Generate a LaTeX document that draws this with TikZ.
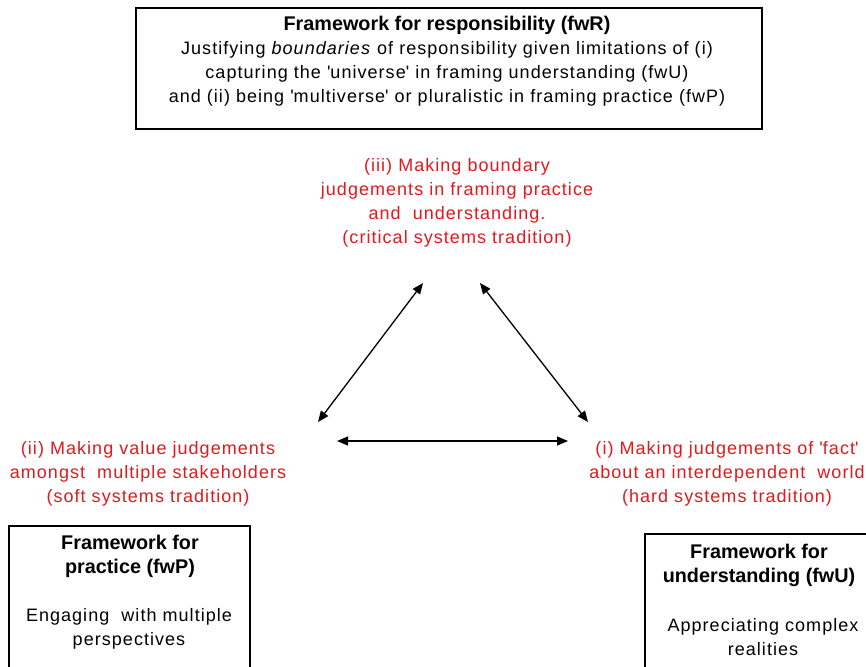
\documentclass[tikz,border=0pt]{standalone}
\usepackage{fontspec}
\setmainfont{Liberation Sans}[LetterSpace=5.8]
\newfontfamily\titlefont{Liberation Sans}[]
\usetikzlibrary{arrows.meta}
\definecolor{redtxt}{RGB}{225,25,30}
\newcommand{\sq}{\textquotesingle}
\newcommand{\bttl}{\titlefont\bfseries\fontsize{19.8}{24}\selectfont}
\begin{document}
\begin{tikzpicture}[x=1pt,y=-1pt,
  ltxt/.style={align=center, font=\fontsize{18}{24}\selectfont, inner sep=0pt},
  redtext/.style={ltxt, text=redtxt},
  dbl/.style={{Triangle[length=11pt,width=9pt]}-{Triangle[length=11pt,width=9pt]}, line width=1.3pt}]
\useasboundingbox (0,0) rectangle (866,666);
% frames
\draw[line width=1.1pt] (136,8) rectangle (762,129);
\draw[line width=1.1pt] (9,700) |- (250,526) -- (250,700);
\draw[line width=1.1pt] (645,700) |- (880,534);
% top box text
\node[ltxt] (fwR) at (447,61.5) {{\bttl Framework for responsibility (fwR)}\\
Justifying \textit{boundaries} of responsibility given limitations of (i)\\
capturing the \sq universe\sq\ in framing understanding (fwU)\\
and (ii) being \sq multiverse\sq\ or pluralistic in framing practice (fwP)};
% red labels
\node[redtext] (crit) at (457,203) {(iii) Making boundary\\judgements in framing practice\\and\ \ understanding.\\(critical systems tradition)};
\node[redtext] (soft) at (148,474) {(ii) Making value judgements\\amongst\ \ multiple stakeholders\\(soft systems tradition)};
\node[redtext] (hard) at (727,474) {(i) Making judgements of \sq fact\sq\\about an interdependent\ \ world\\(hard systems tradition)};
% bottom boxes text
\node[ltxt] (fwPt) at (130,556) {{\bttl Framework for}\\{\bttl practice (fwP)}};
\node[ltxt] (fwPb) at (129,629) {Engaging\ \ with multiple\\perspectives};
\node[ltxt] (fwUt) at (759,565) {{\bttl Framework for}\\{\bttl understanding (fwU)}};
\node[ltxt] (fwUb) at (763,637) {Appreciating complex\\realities};
% arrow ends
\coordinate (lt) at (423,283);
\coordinate (lb) at (318,422);
\coordinate (rt) at (480,283);
\coordinate (rb) at (588,422);
\coordinate (bl) at (337,441);
\coordinate (br) at (568,441);
\draw[dbl] (lt) -- (lb);
\draw[dbl] (rt) -- (rb);
\draw[dbl] (bl) -- (br);
\end{tikzpicture}
\end{document}
